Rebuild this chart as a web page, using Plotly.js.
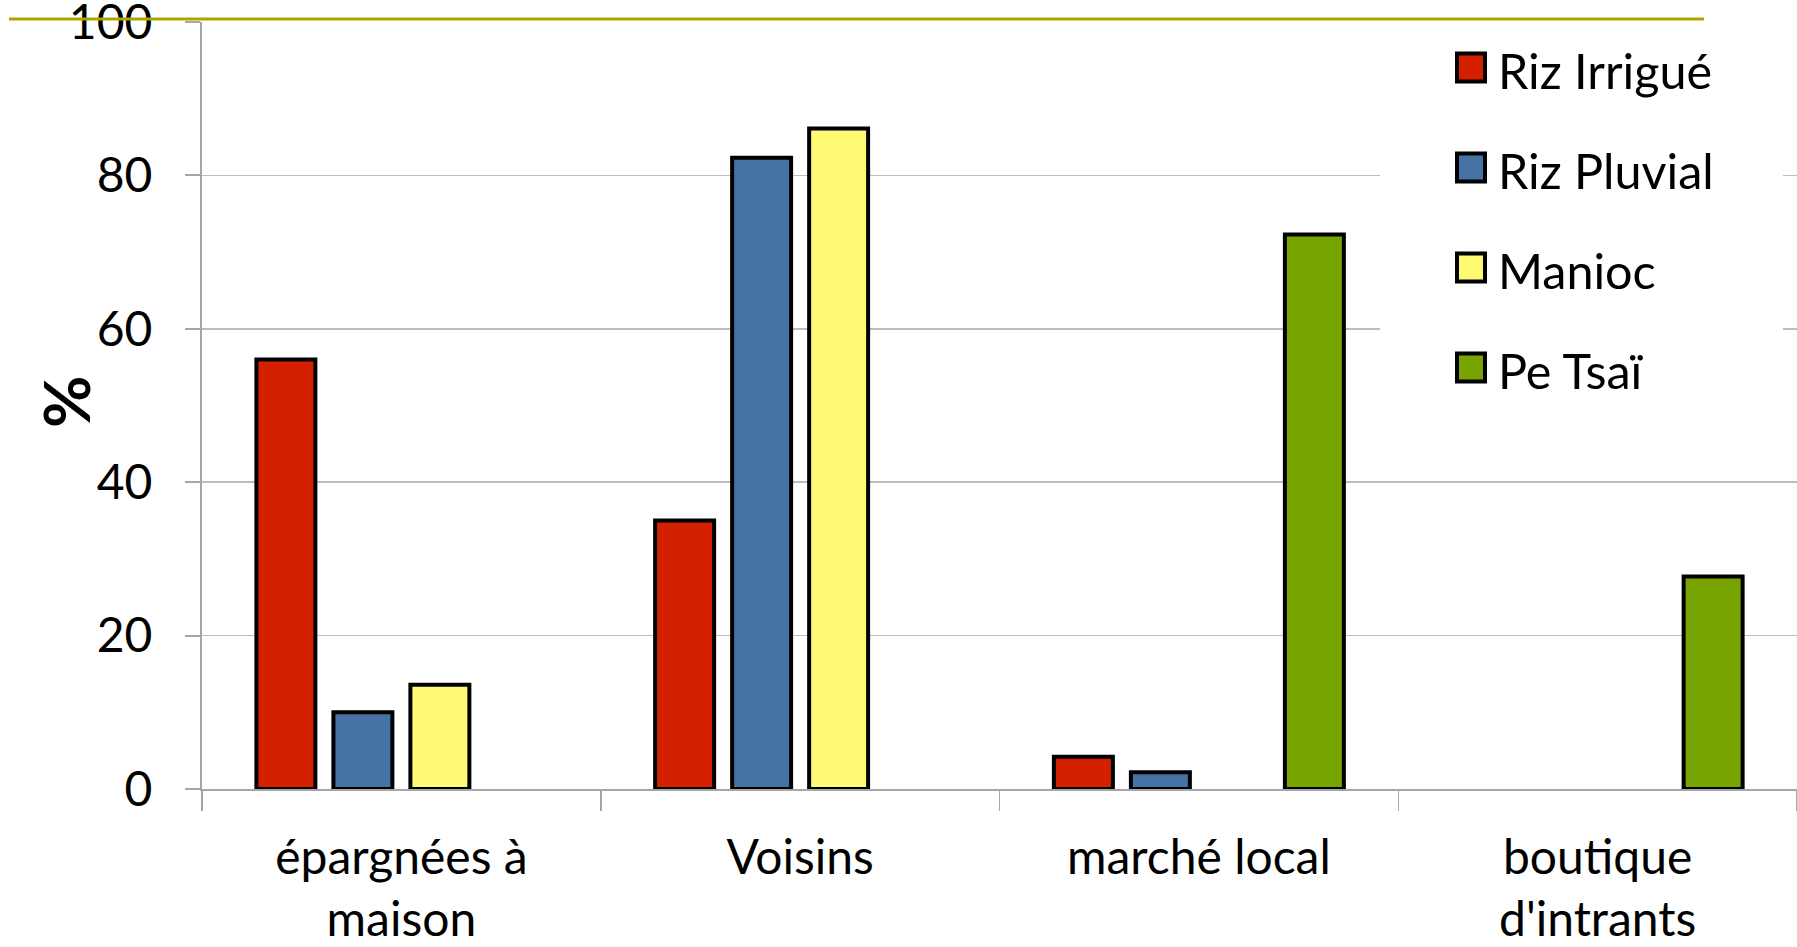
<!DOCTYPE html>
<html>
<head>
<meta charset="utf-8">
<script src="https://cdn.plot.ly/plotly-3.0.1.min.js"></script>
<style>
  html, body { margin: 0; padding: 0; background: #ffffff; }
  #chart { width: 1797px; height: 947px; }
</style>
</head>
<body>
<div id="chart"></div>
<script>
// Sources of seed used by farmers (% of households), by crop
const categories = ["épargnées à<br>maison", "Voisins", "marché local", "boutique<br>d'intrants"];
const seriesNames = ["Riz Irrigué", "Riz Pluvial", "Manioc", "Pe Tsaï"];
const rizIrrigue = [56, 35, 4.2, null];
const rizPluvial = [10, 82.3, 2.2, null];
const manioc = [13.6, 86.1, null, null];
const peTsai = [null, null, 72.3, 27.7];
const seriesColors = ["#D52000", "#4672A4", "#FFF973", "#77A400"];
const yTicks = [0, 20, 40, 60, 80, 100];
const yTitle = "%";

const seriesValues = [rizIrrigue, rizPluvial, manioc, peTsai];

// plot area in pixels
const W = 1797, H = 947;
const L = 202, R = 0, T = 22, B = 158;
const plotW = W - L - R, plotH = H - T - B;
const px = x => (x - L) / plotW;          // pixel column -> paper x
const py = y => (H - B - y) / plotH;      // pixel row -> paper y

const FONT = "Lato, 'Open Sans', sans-serif";

const traces = seriesNames.map((name, i) => ({
  type: "bar",
  name: name,
  x: categories,
  y: seriesValues[i],
  marker: { color: seriesColors[i], line: { color: "#000000", width: 4 } },
  showlegend: false,
  hoverinfo: "x+y+name"
}));

// Hand-drawn legend panel with large swatches
const shapes = [
  { type: "rect", xref: "paper", yref: "paper", layer: "above",
    x0: px(1380), x1: px(1783), y0: py(420), y1: py(8),
    fillcolor: "#ffffff", line: { width: 0 } },
  // decorative olive rule across the top
  { type: "line", xref: "paper", yref: "paper", layer: "above",
    x0: px(9), x1: px(1704), y0: py(19), y1: py(19),
    line: { color: "#ADA600", width: 3 } }
];
const annotations = [];
const legendRows = [67.5, 167.5, 267.5, 367.5];
seriesNames.forEach((name, i) => {
  const cy = legendRows[i];
  shapes.push({
    type: "rect", xref: "paper", yref: "paper", layer: "above",
    x0: px(1457), x1: px(1485), y0: py(cy + 14), y1: py(cy - 14),
    fillcolor: seriesColors[i], line: { color: "#000000", width: 4 }
  });
  annotations.push({
    xref: "paper", yref: "paper", x: px(1496), y: py(cy + 2),
    xanchor: "left", yanchor: "middle", showarrow: false,
    text: name, font: { family: FONT, size: 48.5, color: "#000000" }
  });
});

// vertical axis caption
annotations.push({
  xref: "paper", yref: "paper", x: px(65), y: py(402),
  xanchor: "center", yanchor: "middle", showarrow: false, textangle: -90,
  text: "<b>" + yTitle + "</b>", font: { family: FONT, size: 64, color: "#000000" }
});

const layout = {
  width: W, height: H,
  margin: { l: L, r: R, t: T, b: B, pad: 0 },
  paper_bgcolor: "#ffffff",
  plot_bgcolor: "#ffffff",
  font: { family: FONT, size: 49, color: "#000000" },
  barmode: "group",
  bargap: 0.2276,
  bargroupgap: 0.234,
  showlegend: false,
  xaxis: {
    type: "category",
    range: [-0.5, 3.5],
    showgrid: false,
    zeroline: false,
    showline: true, linecolor: "#A6A6A6", linewidth: 2,
    ticks: "outside", tickson: "boundaries", ticklen: 20,
    tickcolor: "#A6A6A6", tickwidth: 1.5,
    tickfont: { family: FONT, size: 48, color: "#000000" },
    ticklabelstandoff: 25,
    automargin: false
  },
  yaxis: {
    range: [0, 100],
    tickvals: yTicks,
    ticktext: yTicks.map(String),
    showgrid: true, gridcolor: "#BDBDBD", gridwidth: 1.5,
    zeroline: false,
    showline: true, linecolor: "#A6A6A6", linewidth: 2,
    ticks: "outside", ticklen: 15, tickcolor: "#A6A6A6", tickwidth: 2,
    tickfont: { family: FONT, size: 48, color: "#000000" },
    ticklabelstandoff: 23,
    ticklabeloverflow: "allow",
    automargin: false
  },
  shapes: shapes,
  annotations: annotations
};

Plotly.newPlot("chart", traces, layout, { displayModeBar: false, staticPlot: true });
</script>
</body>
</html>
